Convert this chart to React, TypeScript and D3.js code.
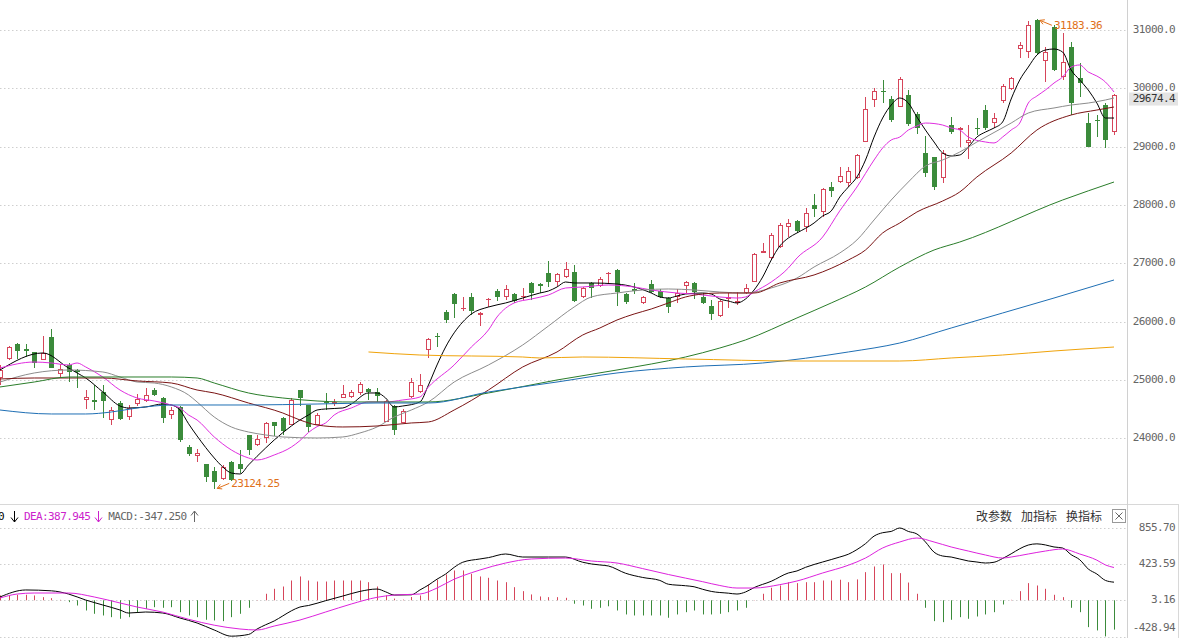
import React from "react";
import * as d3 from "d3";

const opens = [25034,25360,25617,25531,25480,25343,25737,25103,25257,25171,
24657,24657,24794,24314,24605,24365,24588,24640,24828,24691,
24400,24537,23851,23697,23560,23440,23303,23594,23560,24057,
23885,24005,24280,24348,24228,24828,24571,24228,24623,24588,
24691,24708,24777,24845,24794,24280,24554,24263,24708,24794,
25514,25754,26165,26474,26217,26423,26114,26371,26525,26423,
26474,26423,26663,26645,26834,26680,26765,26851,26423,26663,
26611,26817,26885,26474,26560,26320,26645,26525,26405,26423,
26611,26663,26423,26268,26097,26388,26320,26491,26680,27177,
27091,27280,27623,27725,27623,28000,27880,28308,28394,28377,
28463,29080,29800,29954,29817,29680,29885,29560,28891,28823,
28463,29371,29285,29063,29320,29628,29405,29783,29988,30674,
30623,31171,30468,31051,30194,30708,30177,29405,29457,29714,
29251];

const highs = [25257,25583,25634,25617,25480,25754,25874,25274,25291,25188,
24828,24914,24914,24537,24640,24571,24760,24863,24863,24708,
24537,24554,23885,23817,23560,23508,23543,23611,23800,24057,
24057,24280,24280,24365,24691,24828,24571,24434,24777,24674,
24914,24828,24965,24863,24863,24657,24571,24503,25034,25103,
25720,25805,26200,26491,26423,26491,26165,26405,26560,26628,
26491,26577,26680,26663,27040,26834,27023,26971,26594,26680,
26765,26851,26903,26491,26663,26440,26714,26560,26423,26560,
26697,26680,26491,26371,26371,26491,26508,26645,27177,27348,
27520,27691,27760,27743,27948,28188,28291,28394,28651,28651,
28874,29851,30005,30143,29868,30194,29971,29594,29183,28823,
28943,29508,29337,29371,29491,29714,29577,30074,30194,30794,
31150,31183.36,30708,31085,30948,30794,30434,29577,29543,29748,
29903];

const lows = [24914,25343,25360,25394,25205,25343,25205,25034,24965,24863,
24503,24485,24348,24228,24314,24314,24554,24623,24725,24263,
24331,23937,23697,23594,23251,23124.25,23285,23268,23405,23714,
23868,23920,24040,24057,24228,24554,24108,24228,24485,24554,
24691,24691,24743,24657,24623,24280,24057,24263,24691,24777,
25377,25565,25977,26063,26183,26114,25925,26251,26354,26371,
26320,26371,26371,26491,26594,26611,26748,26337,26405,26405,
26594,26663,26268,26303,26474,26303,26491,26405,26148,26320,
26491,26388,26303,26028,26080,26234,26285,26474,26680,27177,
27074,27263,27451,27520,27537,27794,27794,28137,28377,28308,
28445,29080,29680,29748,29423,29680,29354,29217,28480,28257,
28377,29217,28994,28788,29200,29285,29320,29748,29971,30520,
30520,30588,30108,30297,30143,29543,29851,28994,29165,28977,
29200];

const closes = [25171,25565,25497,25497,25291,25463,25205,25188,25137,25137,
24708,24623,24640,24485,24331,24520,24674,24743,24743,24348,
24485,23971,23731,23748,23337,23251,23508,23285,23474,23800,
23988,24263,24211,24125,24657,24691,24194,24400,24605,24623,
24760,24794,24931,24794,24725,24640,24143,24468,24965,24914,
25703,25737,26028,26303,26234,26183,26148,26388,26423,26560,
26354,26440,26491,26611,26680,26817,26903,26354,26577,26577,
26731,26834,26508,26337,26525,26423,26508,26423,26251,26491,
26680,26508,26320,26131,26354,26423,26354,26577,27160,27211,
27485,27657,27691,27554,27863,27931,28274,28240,28497,28583,
28857,29645,29954,29937,29457,30160,29388,29320,28548,28308,
28891,29251,29320,29114,29303,29320,29491,30040,30177,30743,
31085,30605,30623,30314,30451,29748,30091,28994,29440,29114,
29885];

// moving averages: [bar index, value]
const ma5 = [[0,25171],[5,25463],[8,25205],[9,25120],[10,25034],[12,24794],[14,24554],[15,24520],[17,24537],[19,24588],[20,24571],[21,24485],[22,24250],[23,24040],[25,23663],[26,23508],[27,23405],[28,23388],[29,23543],[31,23834],[32,23971],[34,24211],[35,24314],[36,24400],[37,24485],[38,24503],[40,24520],[41,24588],[43,24777],[44,24777],[45,24691],[46,24537],[47,24554],[49,24623],[50,24914],[51,25257],[52,25565],[54,25994],[55,26131],[57,26251],[59,26320],[61,26405],[63,26491],[64,26525],[65,26594],[66,26680],[67,26663],[69,26663],[72,26645],[74,26594],[76,26491],[77,26423],[78,26405],[79,26440],[80,26474],[82,26491],[83,26474],[84,26388],[85,26354],[86,26320],[87,26388],[88,26543],[89,26765],[90,27057],[91,27297],[92,27434],[93,27520],[95,27691],[96,27811],[97,27897],[98,28137],[99,28308],[100,28480],[101,28771],[102,29165],[103,29491],[104,29714],[105,29834],[106,29748],[107,29508],[108,29285],[109,29080],[110,28891],[111,28840],[112,28857],[113,28994],[114,29165],[115,29251],[116,29320],[117,29423],[118,29817],[119,30143],[120,30365],[121,30571],[122,30657],[123,30674],[124,30623],[125,30314],[126,30143],[127,29971],[128,29748],[129,29491],[130,29491]];

const ma10 = [[0,25205],[4,25308],[6,25291],[8,25257],[9,25291],[10,25223],[12,25051],[14,24828],[16,24691],[18,24640],[20,24571],[21,24520],[22,24400],[23,24314],[25,24023],[27,23800],[29,23663],[30,23628],[32,23714],[34,23850],[35,23960],[36,24100],[37,24200],[38,24263],[39,24400],[41,24520],[43,24623],[45,24623],[47,24657],[49,24708],[50,24880],[53,25257],[55,25565],[57,25857],[58,26080],[60,26320],[62,26388],[64,26457],[66,26577],[68,26594],[71,26628],[74,26594],[76,26543],[79,26491],[81,26474],[84,26423],[86,26405],[87,26423],[88,26508],[90,26680],[92,26920],[93,27091],[96,27451],[98,27900],[100,28308],[102,28771],[103,28977],[104,29114],[105,29165],[106,29285],[107,29354],[108,29405],[110,29371],[111,29320],[112,29285],[113,29165],[115,29080],[116,29063],[117,29165],[118,29285],[119,29405],[120,29748],[121,29868],[122,29971],[123,30091],[124,30194],[125,30365],[126,30400],[127,30280],[128,30211],[129,30108],[130,29937]];

const ma20 = [[0,24965],[4,25120],[8,25171],[12,25137],[14,25051],[16,24965],[18,24948],[20,24880],[22,24743],[23,24623],[25,24365],[27,24194],[29,24108],[31,24057],[33,24023],[37,24005],[40,24023],[42,24091],[44,24194],[46,24365],[48,24485],[50,24623],[53,24965],[57,25257],[61,25600],[64,25925],[67,26251],[69,26423],[72,26491],[75,26543],[78,26560],[81,26543],[84,26508],[87,26491],[90,26577],[93,26748],[95,26937],[98,27177],[100,27400],[102,27743],[104,28085],[106,28394],[108,28668],[110,28771],[112,28908],[114,29080],[118,29405],[120,29577],[123,29663],[125,29714],[127,29748],[129,29800],[130,29834]];

const ma30 = [[0,25017],[4,25034],[8,25034],[12,25034],[16,24983],[20,24948],[23,24828],[25,24777],[29,24605],[33,24434],[35,24314],[37,24228],[40,24194],[44,24211],[48,24263],[50,24280],[53,24485],[57,24828],[61,25223],[65,25480],[68,25771],[70,25891],[72,26028],[74,26131],[76,26217],[78,26320],[80,26423],[82,26474],[84,26491],[88,26491],[91,26663],[95,26800],[99,27057],[101,27228],[103,27520],[105,27691],[107,27880],[110,28068],[112,28223],[114,28480],[118,28891],[121,29285],[125,29543],[128,29628],[130,29680]];

const ma60 = [[0,24880],[4,24965],[8,25051],[14,25051],[20,25051],[23,25034],[25,24948],[29,24777],[33,24691],[37,24640],[40,24623],[50,24623],[57,24777],[65,25000],[72,25171],[80,25394],[84,25548],[87,25686],[93,26063],[97,26320],[101,26594],[105,26937],[109,27228],[112,27365],[124,28085],[130,28394]];

const ma120 = [[0,24485],[6,24417],[10,24417],[13,24451],[16,24520],[18,24554],[20,24571],[29,24571],[37,24588],[44,24605],[50,24605],[57,24794],[65,24965],[72,25120],[80,25223],[89,25291],[99,25480],[105,25634],[111,25891],[117,26148],[123,26405],[130,26714]];

const ma250 = [[43,25480],[49,25428],[61,25394],[63,25377],[68,25394],[80,25360],[93,25325],[105,25325],[111,25377],[117,25428],[123,25497],[130,25565]];

const maColors = ["#000000", "#e02ee0", "#8c8c8c", "#7a1414", "#2a7d2a", "#1f6fb4", "#f0a30a"];

const difPts = [[0,39],[3,122],[6,112],[8,74],[10,3],[12,-56],[14,-115],[15,-151],[17,-139],[19,-151],[21,-210],[23,-269],[25,-352],[27,-425],[29,-405],[30,-340],[31,-290],[32,-245],[33,-185],[34,-125],[35,-80],[36,-62],[38,-5],[40,50],[42,105],[44,133],[45,100],[46,62],[48,65],[49,122],[50,180],[51,250],[52,310],[53,390],[54,450],[56,489],[57,505],[59,548],[61,512],[64,512],[66,512],[68,450],[69,430],[70,418],[71,406],[73,320],[75,270],[77,235],[78,190],[80,172],[81,160],[82,130],[83,105],[85,84],[86,74],[87,98],[88,150],[90,225],[92,323],[93,347],[94,390],[96,453],[98,512],[99,545],[100,600],[101,670],[102,760],[103,800],[104,815],[105,855.7],[106,815],[107,785],[108,690],[109,570],[110,524],[111,512],[113,465],[114,453],[115,441],[116,450],[117,495],[118,550],[119,610],[120,654],[121,668],[122,655],[123,631],[124,619],[125,540],[126,480],[127,370],[128,311],[129,235],[130,214.32]];

const deaPts = [[0,27],[2,74],[4,86],[8,86],[11,39],[14,-32],[16,-80],[19,-140],[22,-225],[25,-295],[28,-340],[30,-352],[32,-305],[35,-234],[38,-139],[41,-44],[44,35],[46,62],[49,74],[51,145],[53,250],[54,290],[56,358],[59,441],[62,489],[66,500],[69,465],[72,441],[75,375],[78,305],[82,220],[84,175],[86,145],[88,145],[91,185],[93,228],[96,323],[99,415],[101,500],[103,619],[105,690],[107,737],[109,690],[111,631],[113,583],[115,536],[117,500],[118,512],[120,548],[122,583],[124,607],[126,548],[128,475],[129,418],[130,387.945]];

const macdBars = [57,57,65,65,57,37,25,5,-22,-62,
-121,-160,-180,-200,-219,-200,-141,-101,-82,-89,
-82,-141,-180,-200,-231,-239,-247,-200,-160,-89,
3,77,136,163,234,282,234,222,222,234,
234,234,234,214,163,57,20,8,39,57,
187,243,306,353,353,314,282,266,234,214,
155,108,69,45,37,37,29,-41,-62,-101,
-89,-71,-121,-168,-180,-180,-180,-180,-207,-168,
-141,-121,-168,-168,-160,-141,-121,-89,3,77,
148,175,214,203,214,214,234,234,243,214,
247,333,400,424,321,321,210,77,-89,-247,
-259,-231,-200,-219,-192,-168,-141,-50,5,108,
203,175,136,65,37,-89,-141,-318,-357,-428,
-347.25];

const priceTicks = [24000, 25000, 26000, 27000, 28000, 29000, 30000, 31000];
const macdTicks = [855.70, 423.59, 3.16, -428.94];
const macdTickLabels = ["855.70", "423.59", "3.16", "-428.94"];
const lastPriceLabel = "29674.4";
const legendParts = [
  { text: "DIF:214.320", color: "#000000" },
  { text: "DEA:387.945", color: "#cc22cc" },
  { text: "MACD:-347.250", color: "#666666" },
];
const legendArrows = ["↓", "↓", "↑"];
const menuItems = ["改参数", "加指标", "换指标"];

const RED = "#d6455a";
const GREEN = "#3b8b3b";
const MONO = "'DejaVu Sans Mono', monospace";

export default function App() {
  const n = closes.length;
  const x = d3.scaleLinear().domain([0, n - 1]).range([0, 1114]);
  const y = d3.scaleLinear().domain([24000, 31000]).range([438.3, 30]);
  const ym = d3.scaleLinear().domain([-428.94, 855.7]).range([636.5, 528]);

  const mkLine = (sc: any) =>
    d3.line<number[]>().x((d) => x(d[0])).y((d) => sc(d[1])).curve(d3.curveMonotoneX);
  const priceLine = mkLine(y);
  const macdLine = mkLine(ym);

  const mas = [ma5, ma10, ma20, ma30, ma60, ma120, ma250];

  let hiIdx = 0, loIdx = 0;
  highs.forEach((h, i) => { if (h > highs[hiIdx]) hiIdx = i; });
  lows.forEach((l, i) => { if (l < lows[loIdx]) loIdx = i; });

  const snap = (v: number) => Math.round(v) + 0.5;
  const plotRight = 1127.5;

  const candles = d3.range(n).map((i) => {
    const o = opens[i], c = closes[i], h = highs[i], l = lows[i];
    const up = c >= o;
    const px = Math.round(x(i));
    const cx = px + 0.5;
    const top = Math.round(y(Math.max(o, c)));
    const bot = Math.max(top + 1, Math.round(y(Math.min(o, c))));
    const yh = Math.round(y(h));
    const yl = Math.round(y(l));
    if (up) {
      return (
        <g key={i}>
          {yh < top && <line x1={cx} x2={cx} y1={yh} y2={top} stroke={RED} />}
          {yl > bot && <line x1={cx} x2={cx} y1={bot} y2={yl} stroke={RED} />}
          <rect x={px - 1.5} y={top + 0.5} width={4} height={Math.max(0.01, bot - top - 1)} fill="#fff" stroke={RED} />
        </g>
      );
    }
    return (
      <g key={i}>
        <line x1={cx} x2={cx} y1={yh} y2={yl} stroke={GREEN} />
        <rect x={px - 2} y={top} width={5} height={bot - top} fill={GREEN} />
      </g>
    );
  });

  const bars = macdBars.map((v, i) => {
    const cx = snap(x(i));
    const y0 = ym(0);
    return (
      <line key={i} x1={cx} x2={cx} y1={y0} y2={ym(v)} stroke={v >= 0 ? RED : GREEN} strokeWidth={1} />
    );
  });

  const arrowHead = (tx: number, ty: number, fx: number, fy: number) => {
    const ang = Math.atan2(fy - ty, fx - tx);
    const len = 5;
    const a1 = ang + 0.5, a2 = ang - 0.5;
    return `M${tx},${ty}L${fx},${fy}M${tx + len * Math.cos(a1)},${ty + len * Math.sin(a1)}L${tx},${ty}L${tx + len * Math.cos(a2)},${ty + len * Math.sin(a2)}`;
  };

  const hx = x(hiIdx) + 3, hy = y(highs[hiIdx]) + 1;
  const lx = x(loIdx) + 3, ly = y(lows[loIdx]) - 1;
  const lastY = y(closes[n - 1]) + 4;

  let legendX = 4;
  const legendEls: any[] = [];
  legendParts.forEach((p, k) => {
    const w = p.text.length * 6.02;
    if (k === 0) {
      legendEls.push(<text key={"t" + k} x={legendX} y={520} textAnchor="end" fill={p.color}>{p.text}</text>);
      legendX += 7;
    } else {
      legendEls.push(<text key={"t" + k} x={legendX} y={520} fill={p.color}>{p.text}</text>);
      legendX += w + 5;
    }
    const ax = Math.round(legendX + 3) + 0.5;
    const down = legendArrows[k] === "↓";
    const yTop = 511, yBot = 522;
    const tipY = down ? yBot : yTop;
    const dir = down ? -1 : 1;
    legendEls.push(
      <path
        key={"a" + k}
        d={`M${ax},${yTop}L${ax},${yBot}M${ax - 3.5},${tipY + dir * 4.5}L${ax},${tipY}L${ax + 3.5},${tipY + dir * 4.5}`}
        stroke={p.color}
        fill="none"
        strokeWidth={1}
      />
    );
    legendX += 13;
  });

  return (
    <div style={{ position: "fixed", left: 0, top: 0, width: 1182, height: 638, background: "#fff" }}>
      <svg width={1182} height={638} style={{ display: "block" }}>
        <rect x={0} y={0} width={1182} height={638} fill="#fff" />
        {priceTicks.map((t) => (
          <line key={t} x1={0} x2={plotRight} y1={snap(y(t))} y2={snap(y(t))} stroke="#cfcfcf" strokeDasharray="1.5 2.5" />
        ))}
        {macdTicks.map((t) => (
          <line key={t} x1={0} x2={plotRight} y1={snap(ym(t))} y2={snap(ym(t))} stroke="#cfcfcf" strokeDasharray="1.5 2.5" />
        ))}
        <line x1={0} x2={1178} y1={504.5} y2={504.5} stroke="#d8d8d8" />
        <line x1={plotRight} x2={plotRight} y1={0} y2={638} stroke="#d0d0d0" />
        <line x1={1178.5} x2={1178.5} y1={504} y2={638} stroke="#d8d8d8" />

        {candles}

        {mas.map((m, k) => (
          <path key={k} d={priceLine(m as any) || ""} fill="none" stroke={maColors[k]} strokeWidth={1} />
        ))}

        <path d={arrowHead(hx, hy, hx + 12, hy + 5)} stroke="#e0701a" fill="none" />
        <text x={hx + 14} y={hy + 6} dominantBaseline="middle" fill="#e0701a" fontFamily={MONO} fontSize={11} letterSpacing={-0.6}>
          {d3.format(".2f")(highs[hiIdx])}
        </text>
        <path d={arrowHead(lx, ly, lx + 12, ly - 5)} stroke="#e0701a" fill="none" />
        <text x={lx + 14} y={ly - 4} dominantBaseline="middle" fill="#e0701a" fontFamily={MONO} fontSize={11} letterSpacing={-0.6}>
          {d3.format(".2f")(lows[loIdx])}
        </text>

        <g fontFamily={MONO} fontSize={11} letterSpacing={-0.6} fill="#666">
          {priceTicks.map((t) => (
            <text key={t} x={1175} y={y(t)} textAnchor="end" dominantBaseline="middle">{d3.format(".1f")(t)}</text>
          ))}
        </g>
        <rect x={1129} y={lastY - 6.5} width={49} height={13} fill="#e4e4e4" />
        <text x={1175} y={lastY} textAnchor="end" dominantBaseline="middle" fontFamily={MONO} fontSize={11} letterSpacing={-0.6} fill="#333">{lastPriceLabel}</text>

        {bars}
        <path d={macdLine(difPts as any) || ""} fill="none" stroke="#000" strokeWidth={1} />
        <path d={macdLine(deaPts as any) || ""} fill="none" stroke="#dd22dd" strokeWidth={1} />
        <g fontFamily={MONO} fontSize={11} letterSpacing={-0.6} fill="#666">
          {macdTicks.map((t, k) => (
            <text key={t} x={1175} y={Math.min(ym(t), 628)} textAnchor="end" dominantBaseline="middle">{macdTickLabels[k]}</text>
          ))}
        </g>

        <g fontFamily={MONO} fontSize={11} letterSpacing={-0.6}>{legendEls}</g>

        <g fontFamily="'Noto Sans CJK SC', sans-serif" fontSize={12} fill="#333">
          {menuItems.map((m, k) => (
            <text key={m} x={976 + k * 45} y={521}>{m}</text>
          ))}
        </g>
        <rect x={1112.5} y={509.5} width={13} height={13} fill="#fff" stroke="#999" />
        <path d="M1115.5,512.5L1122.5,519.5M1122.5,512.5L1115.5,519.5" stroke="#666" />
      </svg>
    </div>
  );
}
